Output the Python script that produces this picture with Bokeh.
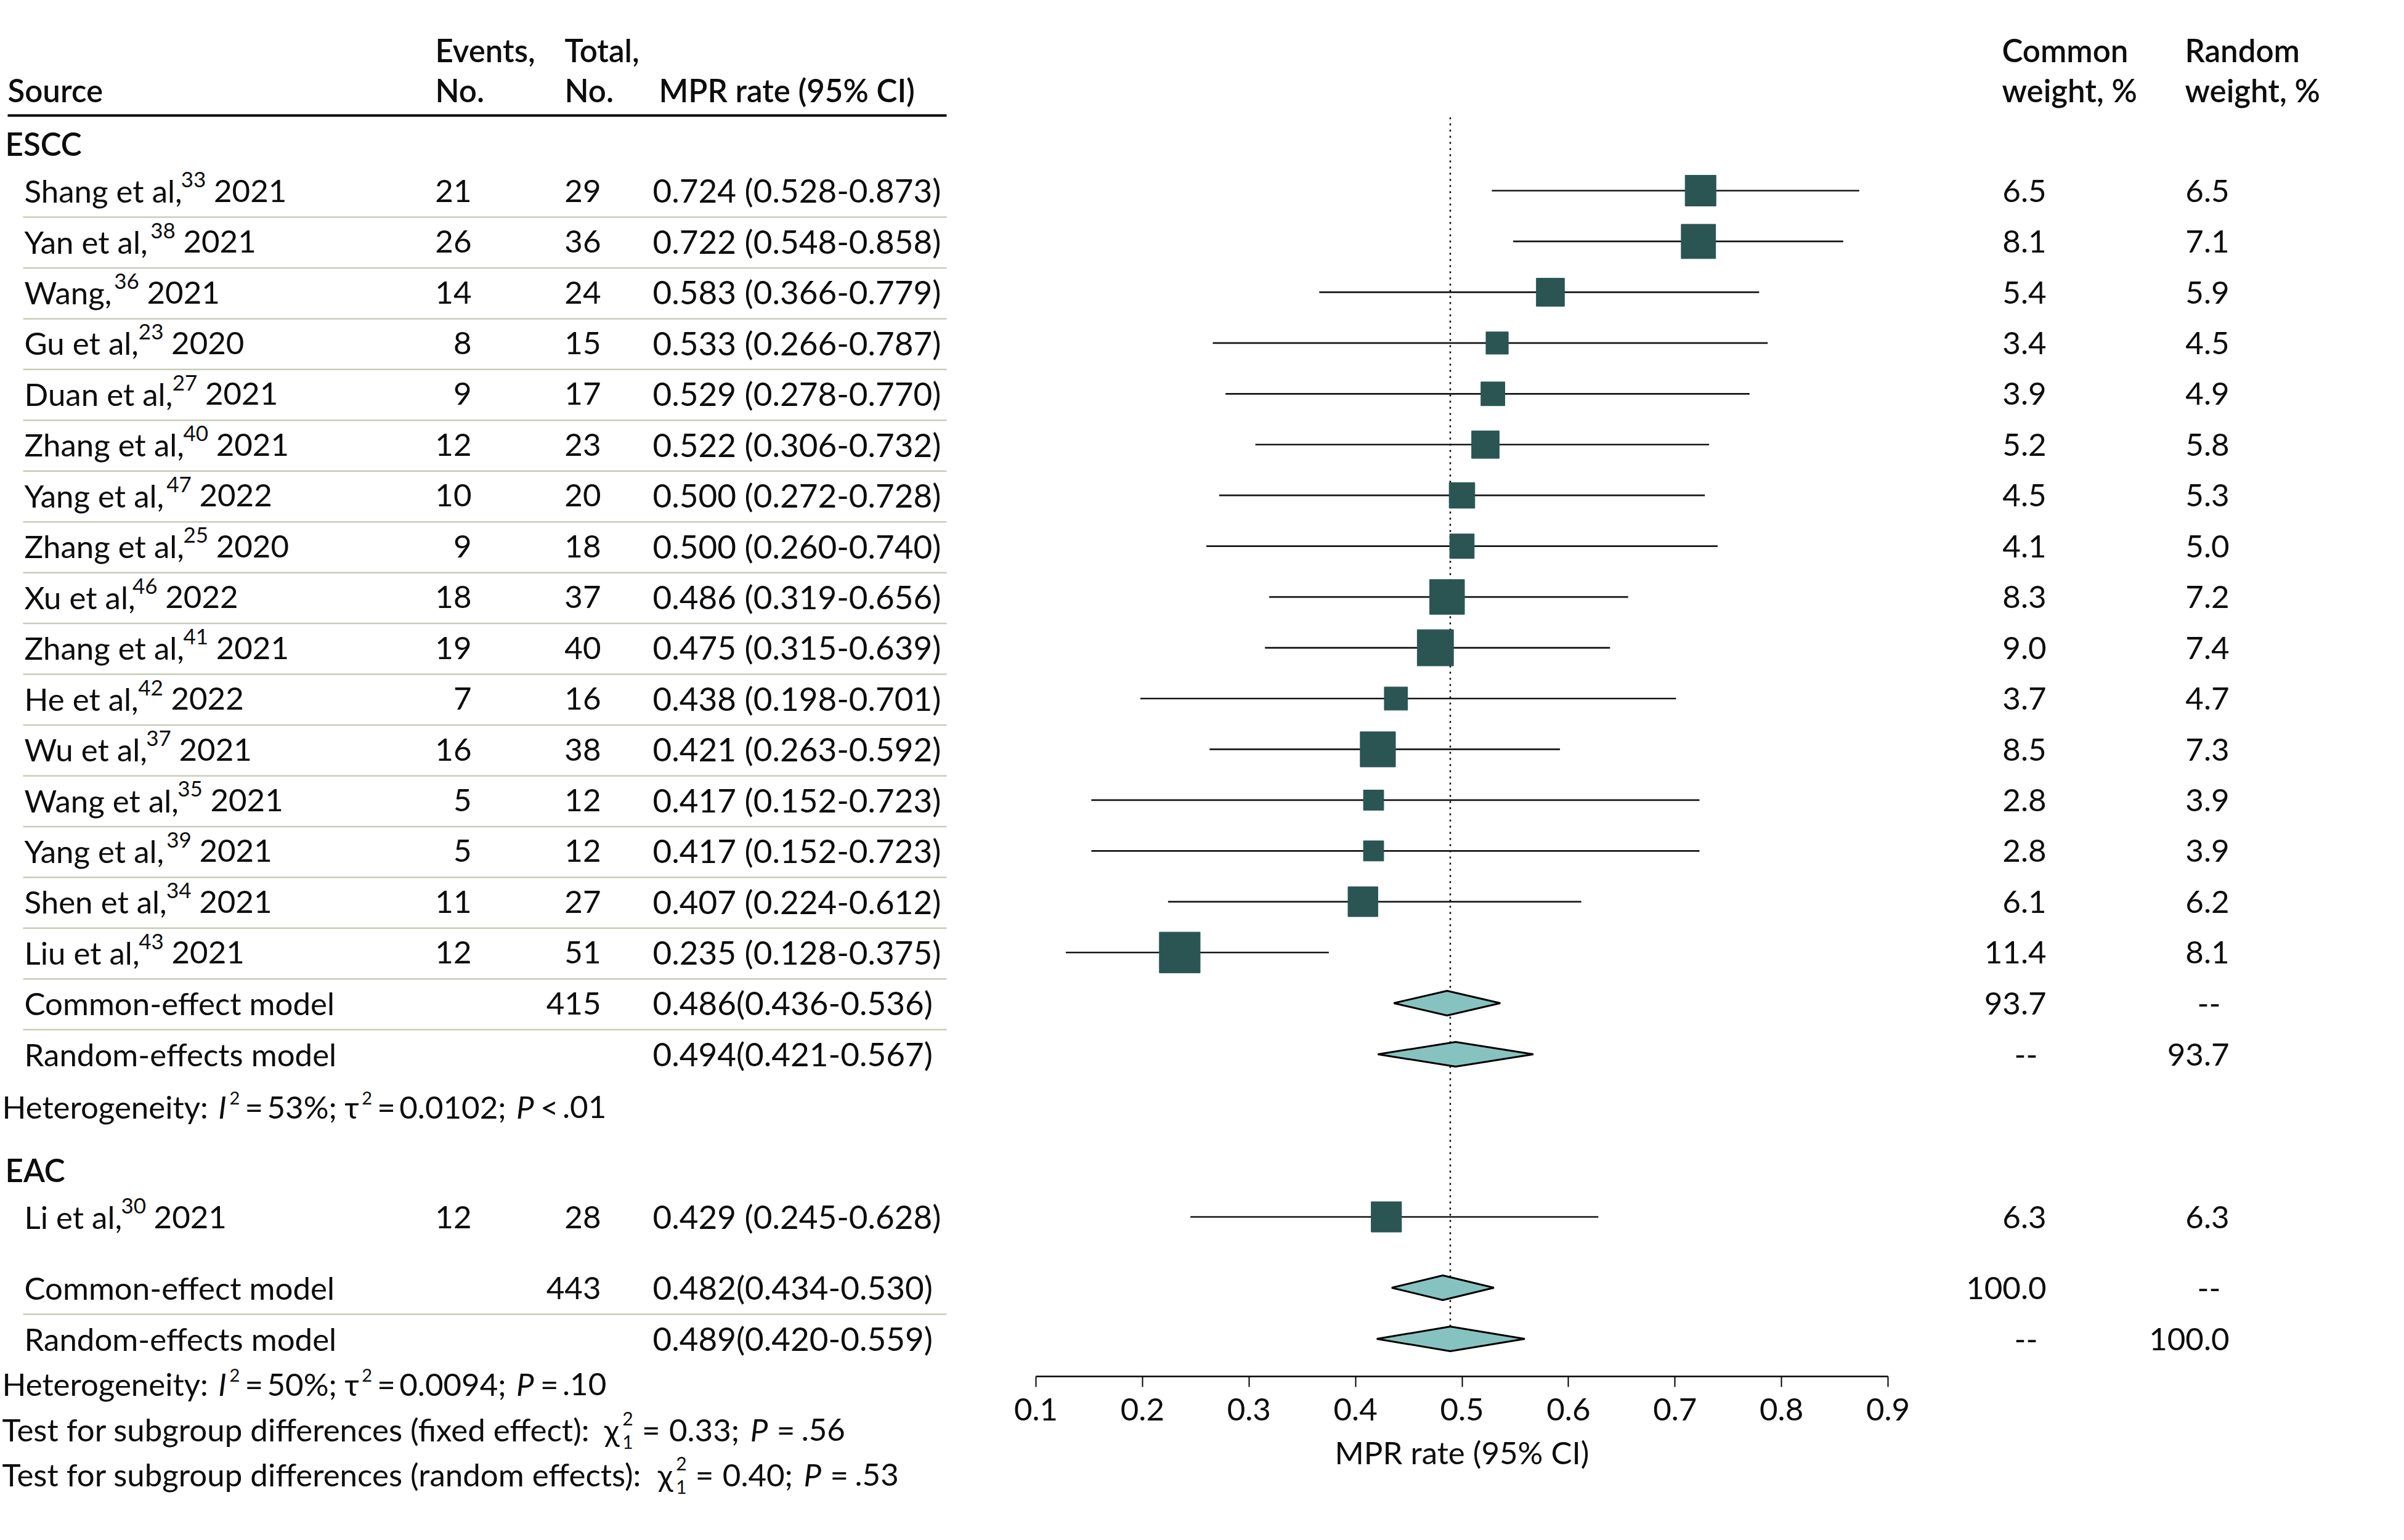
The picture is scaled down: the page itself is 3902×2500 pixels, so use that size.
import math
from bokeh.plotting import figure
from bokeh.models import Range1d, FixedTicker
from bokeh.layouts import row
from bokeh.embed import file_html
from bokeh.resources import INLINE
from bokeh.core.properties import value

# ---------------- data ----------------
study_names = ["Shang et al", "Yan et al", "Wang", "Gu et al", "Duan et al", "Zhang et al",
               "Yang et al", "Zhang et al", "Xu et al", "Zhang et al", "He et al", "Wu et al",
               "Wang et al", "Yang et al", "Shen et al", "Liu et al", "Li et al"]
study_refs = ["33", "38", "36", "23", "27", "40", "47", "25", "46", "41", "42", "37",
              "35", "39", "34", "43", "30"]
study_years = ["2021", "2021", "2021", "2020", "2021", "2021", "2022", "2020", "2022", "2021",
               "2022", "2021", "2021", "2021", "2021", "2021", "2021"]
events = [21, 26, 14, 8, 9, 12, 10, 9, 18, 19, 7, 16, 5, 5, 11, 12, 12]
totals = [29, 36, 24, 15, 17, 23, 20, 18, 37, 40, 16, 38, 12, 12, 27, 51, 28]
rate = [0.724, 0.722, 0.583, 0.533, 0.529, 0.522, 0.500, 0.500, 0.486, 0.475, 0.438, 0.421,
        0.417, 0.417, 0.407, 0.235, 0.429]
ci_lo = [0.528, 0.548, 0.366, 0.266, 0.278, 0.306, 0.272, 0.260, 0.319, 0.315, 0.198, 0.263,
         0.152, 0.152, 0.224, 0.128, 0.245]
ci_hi = [0.873, 0.858, 0.779, 0.787, 0.770, 0.732, 0.728, 0.740, 0.656, 0.639, 0.701, 0.592,
         0.723, 0.723, 0.612, 0.375, 0.628]
w_common = [6.5, 8.1, 5.4, 3.4, 3.9, 5.2, 4.5, 4.1, 8.3, 9.0, 3.7, 8.5, 2.8, 2.8, 6.1, 11.4, 6.3]
w_random = [6.5, 7.1, 5.9, 4.5, 4.9, 5.8, 5.3, 5.0, 7.2, 7.4, 4.7, 7.3, 3.9, 3.9, 6.2, 8.1, 6.3]

pooled_labels = ["Common-effect model", "Random-effects model", "Common-effect model", "Random-effects model"]
pooled_total = ["415", "", "443", ""]
pooled_est = [0.486, 0.494, 0.482, 0.489]
pooled_lo = [0.436, 0.421, 0.434, 0.420]
pooled_hi = [0.536, 0.567, 0.530, 0.559]
pooled_w_common = [93.7, None, 100.0, None]
pooled_w_random = [None, 93.7, None, 100.0]

subgroups = ["ESCC", "EAC"]
het_I2 = ["53%", "50%"]
het_tau2 = ["0.0102", "0.0094"]
het_p_op = ["<", "="]
het_p = [".01", ".10"]
test_labels = ["Test for subgroup differences (fixed effect):",
               "Test for subgroup differences (random effects):"]
test_chi2 = ["0.33", "0.40"]
test_p = [".56", ".53"]

ref_line = 0.489
x_ticks = [0.1, 0.2, 0.3, 0.4, 0.5, 0.6, 0.7, 0.8, 0.9]
x_label = "MPR rate (95% CI)"
col_headers = ["Source", "Events,", "No.", "Total,", "No.", "MPR rate (95% CI)"]
w_headers = ["Common", "weight, %", "Random", "weight, %"]

# ---------------- layout constants (page pixels) ----------------
FONT = "Lato"
BOLD_FONT = "'Lato Semibold', Lato, sans-serif"
FS = 51
CI_FS = 53
SUP = 35
HSUP = 29
BLACK = "#0d0d0d"
SQ_COLOR = "#2a5553"
DIA_COLOR = "#86c3c0"
SEP_COLOR = "#c8cbb8"
BASE_SHIFT = 0.37   # glyph baseline correction, fraction of font size

LATO = {" ": .193, "%": .74, "(": .30, ")": .30, ",": .236, "-": .316, ".": .236, ":": .26,
        ";": .26, "=": .58, "<": .58, "A": .68, "C": .683, "D": .76, "E": .58, "G": .74,
        "H": .762, "I": .29, "L": .512, "M": .922, "P": .598, "R": .626, "S": .53, "T": .574,
        "W": .98, "Y": .632, "Z": .60, "a": .482, "b": .558, "c": .466, "d": .558, "e": .523,
        "f": .334, "g": .502, "h": .558, "i": .236, "k": .504, "l": .236, "m": .844, "n": .558,
        "o": .565, "p": .55, "r": .378, "s": .434, "t": .362, "u": .558, "v": .508, "w": .76,
        "x": .49, "y": .508, "z": .45, "τ": .50, "χ": .55}
for d in "0123456789":
    LATO[d] = .58


def tw(s, size):
    return sum(LATO.get(c, 0.55) for c in s) * size * 1.015


study_y = [328 + i * 82.45 for i in range(16)] + [1994]
pooled_y = [1647, 1730, 2109, 2192]
group_y = [252, 1918]
het_y = [1815, 2265]
test_y = [2339, 2412]

LEFT_W, MID_W, RIGHT_W, H = 1600, 1550, 744, 2490
MID_X0 = LEFT_W
RIGHT_X0 = MID_X0 + MID_W
AXIS_Y = 2234
BOTTOM = H - AXIS_Y   # space under every frame (holds the x axis of the forest panel)


def base_fig(width, x_range, **kw):
    f = figure(width=width, height=H, x_range=x_range, y_range=Range1d(AXIS_Y, 0),
               output_backend="svg", toolbar_location=None,
               x_axis_location=kw.pop("x_axis_location", None), y_axis_location=None,
               outline_line_color=None, background_fill_color="white",
               border_fill_color="white", min_border_top=0, min_border_bottom=BOTTOM, **kw)
    f.grid.visible = False
    return f


def put(f, xs, ys, texts, size=FS, align="left", style="normal", font=FONT):
    f.text(x=xs, y=[y - BASE_SHIFT * size for y in ys], text=texts, text_font=value(font),
           text_font_size=value(f"{size}px"), text_font_style=style, text_align=align,
           text_baseline="alphabetic", text_color=BLACK, level="overlay")


# ---------------- left table ----------------
left = base_fig(LEFT_W, Range1d(0, LEFT_W), min_border_left=0, min_border_right=0)

put(left, [706, 916], [100, 100], [col_headers[1], col_headers[3]], font=BOLD_FONT)
put(left, [12, 706, 916, 1069], [165] * 4,
    [col_headers[0], col_headers[2], col_headers[4], col_headers[5]], font=BOLD_FONT)
left.segment(x0=[12], y0=[187], x1=[1536], y1=[187], line_color="black", line_width=4)

put(left, [8, 8], group_y, subgroups, font=BOLD_FONT)

name_txt = [n + "," for n in study_names]
ref_x = [39 + tw(t, FS) + 3 for t in name_txt]
year_x = [rx + tw(r, SUP) + 12 for rx, r in zip(ref_x, study_refs)]
put(left, [39] * len(name_txt), study_y, name_txt)
put(left, ref_x, [y - 24 for y in study_y], study_refs, size=SUP)
put(left, year_x, study_y, study_years)
put(left, [765] * len(events), study_y, [str(e) for e in events], align="right")
put(left, [975] * len(totals), study_y, [str(t) for t in totals], align="right")
put(left, [1059] * len(rate), study_y,
    [f"{r:.3f} ({lo:.3f}-{hi:.3f})" for r, lo, hi in zip(rate, ci_lo, ci_hi)], size=CI_FS)

put(left, [39] * 4, pooled_y, pooled_labels)
put(left, [975] * 4, pooled_y, pooled_total, align="right")
put(left, [1059] * 4, pooled_y,
    [f"{e:.3f}({lo:.3f}-{hi:.3f})" for e, lo, hi in zip(pooled_est, pooled_lo, pooled_hi)],
    size=CI_FS)

sep_y = [y + 24 for y in study_y[:16]] + [pooled_y[0] + 24, pooled_y[2] + 24]
left.segment(x0=[37] * len(sep_y), y0=sep_y, x1=[1536] * len(sep_y), y1=sep_y,
             line_color=SEP_COLOR, line_width=2.5)

# heterogeneity lines
for k in range(2):
    y = het_y[k]
    x = 3
    put(left, [x], [y], ["Heterogeneity:"]); x += tw("Heterogeneity:", FS) + 10
    put(left, [x], [y], ["I"], style="italic"); x += tw("I", FS) + 3
    put(left, [x], [y - 22], ["2"], size=HSUP); x += tw("2", HSUP) + 8
    put(left, [x], [y], ["="]); x += tw("=", FS) + 6
    put(left, [x], [y], [het_I2[k] + ";"]); x += tw(het_I2[k] + ";", FS) + 14
    put(left, [x], [y], ["τ"]); x += tw("τ", FS) + 2
    put(left, [x], [y - 22], ["2"], size=HSUP); x += tw("2", HSUP) + 8
    put(left, [x], [y], ["="]); x += tw("=", FS) + 6
    put(left, [x], [y], [het_tau2[k] + ";"]); x += tw(het_tau2[k] + ";", FS) + 14
    put(left, [x], [y], ["P"], style="italic"); x += tw("P", FS) + 8
    put(left, [x], [y], [het_p_op[k]]); x += tw(het_p_op[k], FS) + 6
    put(left, [x], [y], [het_p[k]])

# subgroup difference tests
for k in range(2):
    y = test_y[k]
    x = 3
    put(left, [x], [y], [test_labels[k]]); x += tw(test_labels[k], FS) + 12
    put(left, [x], [y], ["χ"]); x += tw("χ", FS) + 1
    put(left, [x], [y - 25], ["2"], size=30)
    put(left, [x], [y + 13], ["1"], size=30); x += tw("2", 30) + 14
    put(left, [x], [y], ["="]); x += tw("=", FS) + 14
    put(left, [x], [y], [test_chi2[k] + ";"]); x += tw(test_chi2[k] + ";", FS) + 16
    put(left, [x], [y], ["P"], style="italic"); x += tw("P", FS) + 12
    put(left, [x], [y], ["="]); x += tw("=", FS) + 10
    put(left, [x], [y], [test_p[k]])

# ---------------- middle forest panel ----------------
mid = base_fig(MID_W, Range1d(0.1, 0.9), x_axis_location="below",
               min_border_left=1681 - MID_X0, min_border_right=RIGHT_X0 - 3064)

mid.segment(x0=[ref_line], y0=[190], x1=[ref_line], y1=[2195], line_color="black",
            line_width=2.5, line_dash="3 7")

mark_y = [y - 19 for y in study_y]
mid.segment(x0=ci_lo, y0=mark_y, x1=ci_hi, y1=mark_y, line_color="#151515", line_width=2.7)
mid.scatter(x=rate, y=mark_y, size=[19.6 * math.sqrt(w) for w in w_common], marker="square",
            fill_color=SQ_COLOR, line_color=SQ_COLOR, line_width=1)

dia_y = [y - 19 for y in pooled_y]
mid.patches(xs=[[lo, e, hi, e] for lo, e, hi in zip(pooled_lo, pooled_est, pooled_hi)],
            ys=[[y, y - 20, y, y + 20] for y in dia_y],
            fill_color=DIA_COLOR, line_color="black", line_width=3)

ax = mid.xaxis[0]
ax.ticker = FixedTicker(ticks=x_ticks)
ax.axis_label = x_label
ax.axis_line_color = "black"
ax.axis_line_width = 2.5
ax.major_tick_line_color = "black"
ax.major_tick_line_width = 2
ax.major_tick_out = 17
ax.major_tick_in = 0
ax.minor_tick_out = 0
ax.minor_tick_in = 0
ax.major_label_text_font = FONT
ax.major_label_text_font_size = f"{FS}px"
ax.major_label_text_color = BLACK
ax.major_label_standoff = 18
ax.axis_label_text_font = FONT
ax.axis_label_text_font_size = f"{FS}px"
ax.axis_label_text_font_style = "normal"
ax.axis_label_text_color = BLACK
ax.axis_label_standoff = 18

# ---------------- right weight columns ----------------
right = base_fig(RIGHT_W, Range1d(RIGHT_X0, RIGHT_X0 + RIGHT_W), min_border_left=0,
                 min_border_right=0)
put(right, [3249, 3546], [100, 100], [w_headers[0], w_headers[2]], font=BOLD_FONT)
put(right, [3249, 3546], [165, 165], [w_headers[1], w_headers[3]], font=BOLD_FONT)
put(right, [3321] * len(w_common), study_y, [f"{w:.1f}" for w in w_common], align="right")
put(right, [3618] * len(w_random), study_y, [f"{w:.1f}" for w in w_random], align="right")


def wtxt(w):
    return "--" if w is None else f"{w:.1f}"


put(right, [3321 if w is not None else 3307 for w in pooled_w_common], pooled_y,
    [wtxt(w) for w in pooled_w_common], align="right")
put(right, [3618 if w is not None else 3604 for w in pooled_w_random], pooled_y,
    [wtxt(w) for w in pooled_w_random], align="right")

layout = row(left, mid, right)
open("out.html", "w").write(file_html(layout, INLINE, title="Forest plot"))
